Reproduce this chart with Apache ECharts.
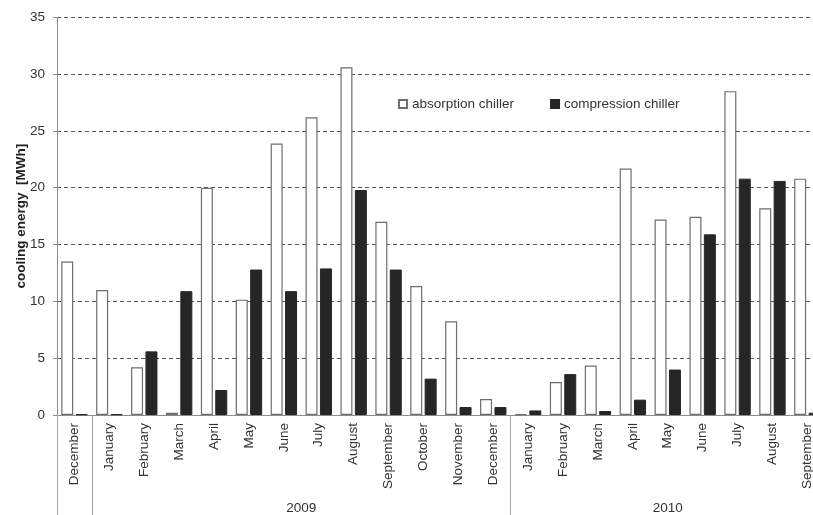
<!DOCTYPE html>
<html>
<head>
<meta charset="utf-8">
<script src="https://cdn.jsdelivr.net/npm/echarts@6/dist/echarts.min.js"></script>
<style>
  html, body { margin: 0; padding: 0; background: #fff; }
  #chart { width: 813px; height: 515px; }
</style>
</head>
<body>
<div id="chart"></div>
<script>
// months from Dec 2008 to Sep 2010
const months = [
  "December",
  "January", "February", "March", "April", "May", "June",
  "July", "August", "September", "October", "November", "December",
  "January", "February", "March", "April", "May", "June",
  "July", "August", "September",
];
const absorption = [
  13.5, 11.0, 4.2, 0.2, 20.0, 10.15, 23.9, 26.2, 30.6, 17.0, 11.35, 8.25, 1.4,
  0.06, 2.9, 4.35, 21.7, 17.2, 17.45, 28.5, 18.2, 20.8,
];
const compression = [
  0.06, 0.06, 5.6, 10.9, 2.2, 12.8, 10.9, 12.9, 19.8, 12.8, 3.2, 0.7, 0.7,
  0.4, 3.6, 0.35, 1.35, 4.0, 15.9, 20.8, 20.6, 0.2,
];
const yearLabels = ["2009", "2010"];
const groupBounds = [0, 1, 13, 22]; // category index where each year group starts
const yTicks = [0, 5, 10, 15, 20, 25, 30, 35];

const FONT = "Liberation Sans";
const TXT = "#333";

const yearCenters = yearLabels.map((_, i) => (groupBounds[i + 1] + groupBounds[i + 2]) / 2);

const chart = echarts.init(document.getElementById("chart"));
chart.setOption({
  animation: false,
  textStyle: { fontFamily: FONT },
  // the last month runs past the right edge of the picture
  grid: {
    left: 57,
    top: 17.3,
    width: 767.8,
    height: 397.7,
    containLabel: false,
    outerBoundsMode: "none",
  },
  legend: {
    left: 398,
    top: 97,
    padding: 0,
    itemWidth: 8,
    itemHeight: 8,
    itemGap: 36,
    icon: "rect",
    textStyle: { fontSize: 13.5, color: TXT, fontFamily: FONT },
    data: ["absorption chiller", "compression chiller"],
  },
  xAxis: [
    {
      type: "category",
      data: months,
      axisLine: { lineStyle: { color: "#8c8c8c" } },
      axisTick: { length: 77, lineStyle: { color: "#a6a6a6" } },
      axisLabel: { rotate: 90, fontSize: 13.5, color: TXT, margin: 8, interval: 0 },
    },
    {
      type: "value",
      min: 0,
      max: months.length,
      position: "bottom",
      axisLine: { show: false },
      splitLine: { show: false },
      axisTick: {
        show: true,
        customValues: groupBounds.slice(0, 3),
        length: 102,
        lineStyle: { color: "#a6a6a6" },
      },
      axisLabel: {
        customValues: yearCenters,
        formatter: (v) => yearLabels[yearCenters.indexOf(v)] || "",
        fontSize: 13.5,
        color: TXT,
        margin: 86,
      },
    },
  ],
  yAxis: {
    type: "value",
    min: yTicks[0],
    max: yTicks[yTicks.length - 1],
    interval: 5,
    name: "cooling energy  [MWh]",
    nameLocation: "middle",
    nameGap: 29,
    nameMoveOverlap: false,
    nameTextStyle: { fontWeight: "bold", fontSize: 13.5, color: "#222" },
    axisLine: { show: true, lineStyle: { color: "#8c8c8c" } },
    axisTick: { show: true, length: 4, lineStyle: { color: "#8c8c8c" } },
    axisLabel: { fontSize: 13.5, color: TXT, margin: 12 },
    splitLine: { lineStyle: { color: "#555", type: [4, 3], width: 1 } },
  },
  series: [
    {
      name: "absorption chiller",
      type: "bar",
      data: absorption,
      barWidth: 12,
      barGap: "20%",
      itemStyle: { color: "#fff", borderColor: "#6e6e6e", borderWidth: 1.2 },
    },
    {
      name: "compression chiller",
      type: "bar",
      data: compression,
      barWidth: 12,
      itemStyle: { color: "#262626", borderColor: "#262626", borderWidth: 1 },
    },
  ],
});
</script>
</body>
</html>
